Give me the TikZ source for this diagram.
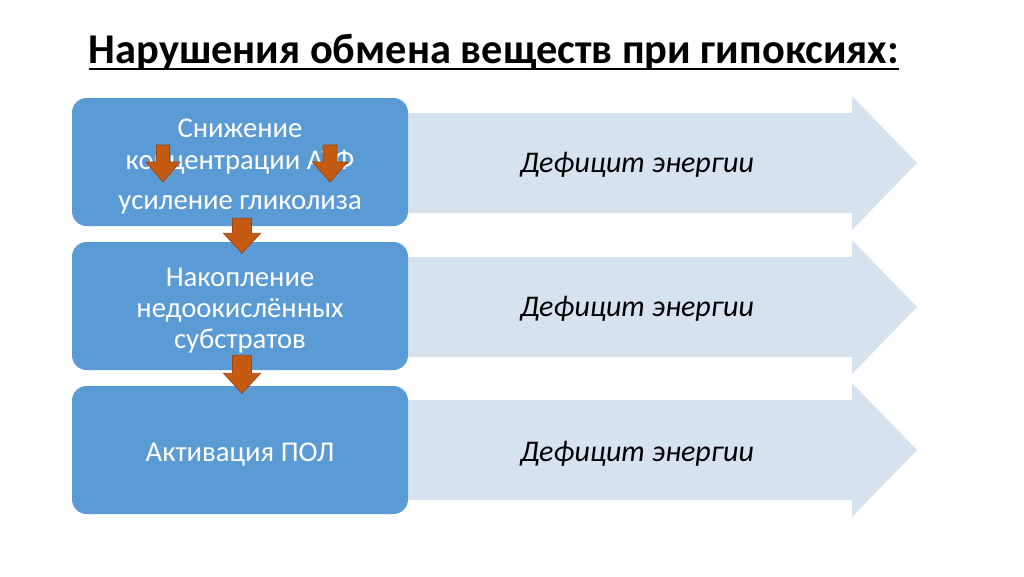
\documentclass[tikz,border=0pt]{standalone}
\usepackage{fontspec}
\setmainfont{Carlito}
\usetikzlibrary{positioning}
\definecolor{boxblue}{HTML}{5B9BD5}
\definecolor{pale}{HTML}{D7E2EF}
\definecolor{rust}{HTML}{C55A11}
\definecolor{rustdark}{HTML}{9E4712}
% block arrow pointing down: top centre, shaft half width, shaft length, head half width, head length
\newcommand{\fatdown}[5]{\filldraw[fatarrow] #1 ++(-#2,0) -- ++(2*#2,0) -- ++(0,#3) -- ++(#4-#2,0) -- ++(-#4,#5) -- ++(-#4,-#5) -- ++(#4-#2,0) -- cycle;}
\begin{document}
\begin{tikzpicture}[x=0.75pt,y=-0.75pt,
	stage/.style={fill=boxblue,rounded corners=11pt,minimum width=252pt,minimum height=96pt},
	stagetext/.style={text=white,align=center,font=\fontsize{21.5}{24}\selectfont},
	deficit/.style={font=\fontsize{22.5}{26}\selectfont\itshape},
	fatarrow/.style={fill=rust,draw=rustdark,line width=0.6pt}]
	\useasboundingbox (0,0) rectangle (1024,576);
	% title
	\node [anchor=base,inner sep=0,font=\fontsize{31.8}{38}\selectfont\bfseries] (title) at (494,63) {Нарушения обмена веществ при гипоксиях:};
	\draw [line width=2pt] ([yshift=-4.5pt]title.base west) -- ([yshift=-4.5pt]title.base east);
	% process arrows
	\foreach \yc in {163,307,450}
		\fill [pale] (240,\yc-50) -- (852,\yc-50) -- (852,\yc-67) -- (917,\yc) -- (852,\yc+67) -- (852,\yc+50) -- (240,\yc+50) -- cycle;
	% stages
	\node [stage] (box1) at (240,162) {};
	\node [stage] (box2) at (240,306) {};
	\node [stage] (box3) at (240,450) {};
	\node [stagetext] (txt1) at ([yshift=-3.2pt]box1.center) {Снижение\\концентрации АТФ\\[6pt]усиление гликолиза};
	\node [stagetext,font=\fontsize{21.5}{23.3}\selectfont] (txt2) at ([yshift=-3.4pt]box2.center) {Накопление\\недоокислённых\\субстратов};
	\node [stagetext] (txt3) at ([yshift=-3.6pt]box3.center) {Активация ПОЛ};
	\node [deficit] (def1) at (637,165) {Дефицит энергии};
	\node [deficit] (def2) at (637,309) {Дефицит энергии};
	\node [deficit] (def3) at (637,454) {Дефицит энергии};
	% arrows
	\fatdown{(163,145)}{6.5}{17}{17}{20}
	\fatdown{(330,145)}{7}{17}{17.5}{20}
	\fatdown{(box1.south) ++(2,-8)}{9.5}{15}{18.5}{20}
	\fatdown{(box2.south) ++(2,-15)}{9.5}{18}{18.5}{20}
\end{tikzpicture}
\end{document}
